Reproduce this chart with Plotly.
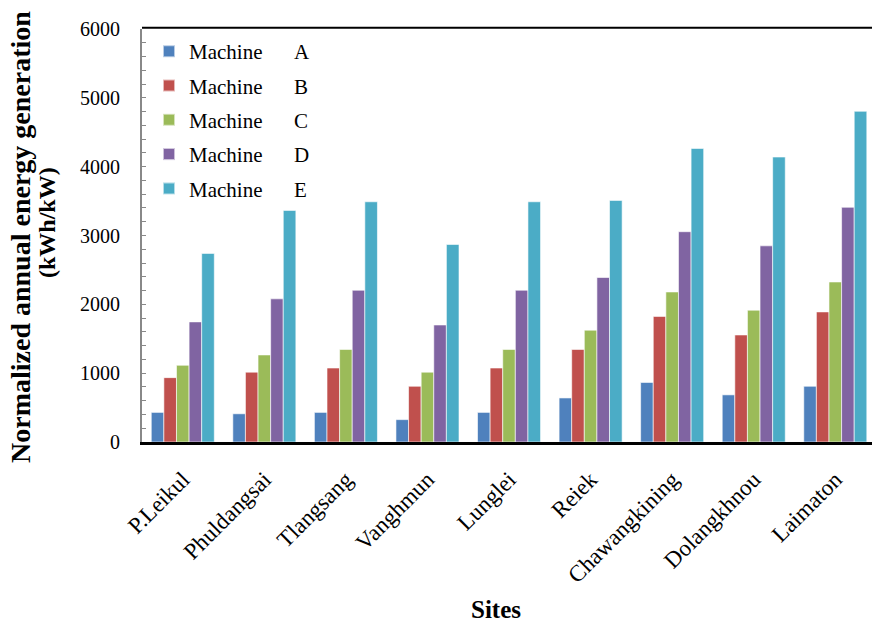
import plotly.graph_objects as go

sites = ["P.Leikul", "Phuldangsai", "Tlangsang", "Vanghmun", "Lunglei",
         "Reiek", "Chawangkining", "Dolangkhnou", "Laimaton"]
machine_a = [430, 410, 430, 325, 430, 640, 865, 685, 810]
machine_b = [935, 1015, 1075, 810, 1075, 1345, 1825, 1555, 1890]
machine_c = [1115, 1265, 1345, 1015, 1345, 1625, 2180, 1915, 2325]
machine_d = [1745, 2080, 2205, 1700, 2205, 2390, 3055, 2850, 3410]
machine_e = [2740, 3365, 3490, 2870, 3490, 3510, 4265, 4140, 4805]
series_names = ["Machine\u00a0\u00a0\u00a0\u00a0\u00a0\u00a0A",
                "Machine\u00a0\u00a0\u00a0\u00a0\u00a0\u00a0B",
                "Machine\u00a0\u00a0\u00a0\u00a0\u00a0\u00a0C",
                "Machine\u00a0\u00a0\u00a0\u00a0\u00a0\u00a0D",
                "Machine\u00a0\u00a0\u00a0\u00a0\u00a0\u00a0E"]
colors = ["#4F81BD", "#C0504D", "#9BBB59", "#8064A2", "#4BACC6"]
y_ticks = [0, 1000, 2000, 3000, 4000, 5000, 6000]

fig = go.Figure()
for i, (name, vals, col) in enumerate(zip(series_names,
                           [machine_a, machine_b, machine_c, machine_d, machine_e],
                           colors)):
    fig.add_trace(go.Bar(x=sites, y=vals, name=name, marker_color=col,
                         legendgroup=f"g{i}",
                         marker_line=dict(color="rgba(255,255,255,0.6)", width=1)))

ff = "Liberation Serif"
fig.update_layout(
    width=872, height=624,
    margin=dict(l=142, r=0, t=29, b=182, autoexpand=False),
    paper_bgcolor="white", plot_bgcolor="white",
    barmode="group", bargap=0.227, bargroupgap=0,
    font=dict(family=ff, size=20, color="black"),
    showlegend=True,
    legend=dict(x=0.0096, y=0.995, xanchor="left", yanchor="top",
                bgcolor="rgba(0,0,0,0)", font=dict(size=21, family=ff),
                tracegroupgap=4, itemsizing="constant"),
    xaxis=dict(range=[-0.5, 8.45], tickangle=-45, showgrid=False, automargin=False,
               showline=True, linecolor="black", linewidth=3,
               ticks="", tickfont=dict(size=23, family=ff),
               ticklabelshift=0, ticklabelstandoff=12),
    yaxis=dict(range=[0, 6000], tickvals=y_ticks, showgrid=False, automargin=False,
               showline=True, linecolor="#888888", linewidth=2,
               ticks="inside", ticklen=4, tickcolor="#888888",
               minor=dict(dtick=200, ticks="inside", ticklen=4, tickcolor="#888888"),
               tickfont=dict(size=20, family=ff), ticklabelstandoff=16,
               zeroline=False),
    annotations=[
        dict(text="<b>Normalized annual energy generation</b>", textangle=-90,
             xref="paper", yref="paper", x=(21 - 142) / 730, y=(442 - 237) / 413,
             xanchor="center", yanchor="middle", showarrow=False,
             font=dict(size=28, family=ff)),
        dict(text="<b>(kWh/kW)</b>", textangle=-90,
             xref="paper", yref="paper", x=(47 - 142) / 730, y=(442 - 223) / 413,
             xanchor="center", yanchor="middle", showarrow=False,
             font=dict(size=24, family=ff)),
        dict(text="<b>Sites</b>", xref="paper", yref="paper",
             x=(496 - 142) / 730, y=-(609 - 442) / 413,
             xanchor="center", yanchor="middle", showarrow=False,
             font=dict(size=25, family=ff)),
    ],
)
fig.add_shape(type="line", xref="paper", yref="paper", x0=0, x1=1, y0=1.003, y1=1.003,
              line=dict(color="black", width=2))
fig.write_html("out.html", config={"displayModeBar": False},
               post_script="document.body.style.margin='0';document.body.style.overflow='hidden';")
